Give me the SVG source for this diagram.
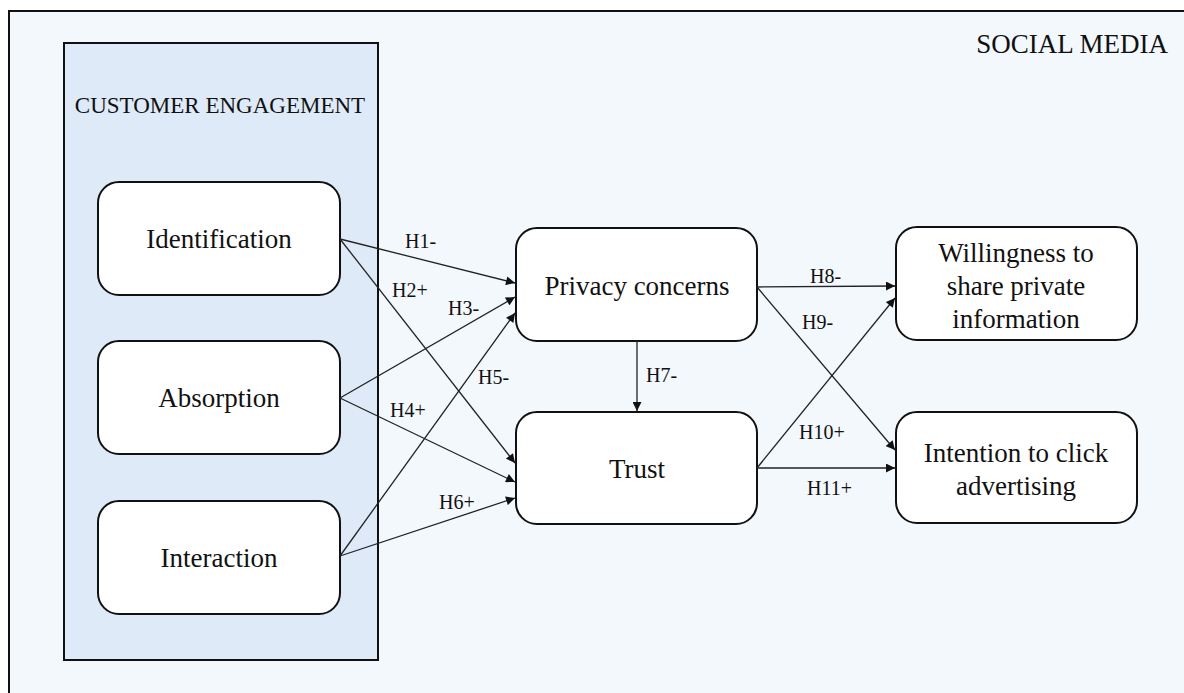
<svg xmlns="http://www.w3.org/2000/svg" width="1184" height="693" viewBox="0 0 1184 693">
  <style>
    .t { font-family: "Liberation Serif", "Times New Roman", serif; fill: #111; }
    .node { fill: #ffffff; stroke: #111; stroke-width: 2; }
    .lbl { font-size: 20px; }
    .nt { font-size: 27px; text-anchor: middle; }
    .edge { stroke: #222; stroke-width: 1.3; fill: none; marker-end: url(#arr); }
  </style>
  <defs>
    <marker id="arr" viewBox="0 0 10 10" refX="10" refY="5" markerWidth="10" markerHeight="9" markerUnits="userSpaceOnUse" orient="auto">
      <path d="M0,0 L10,5 L0,10 z" fill="#111"/>
    </marker>
  </defs>
  <rect x="0" y="0" width="1184" height="693" fill="#ffffff"/>
  <!-- social media frame -->
  <g id="social-media">
    <rect x="9" y="11" width="1190" height="700" fill="#f3f8fc" stroke="#111" stroke-width="2"/>
    <text class="t" x="1168" y="53" font-size="27" text-anchor="end">SOCIAL MEDIA</text>
  </g>
  <!-- customer engagement container -->
  <g id="customer-engagement">
    <rect x="64" y="43" width="314" height="617" fill="#deeaf8" stroke="#111" stroke-width="2"/>
    <text class="t" x="220" y="113" font-size="23" text-anchor="middle">CUSTOMER ENGAGEMENT</text>
  </g>
  <g id="identification">
    <rect class="node" x="98" y="182" width="242" height="113" rx="21"/>
    <text class="t nt" x="219" y="248">Identification</text>
  </g>
  <g id="absorption">
    <rect class="node" x="98" y="341" width="242" height="113" rx="21"/>
    <text class="t nt" x="219" y="407">Absorption</text>
  </g>
  <g id="interaction">
    <rect class="node" x="98" y="501" width="242" height="113" rx="21"/>
    <text class="t nt" x="219" y="567">Interaction</text>
  </g>
  <g id="privacy-concerns">
    <rect class="node" x="516" y="228" width="241" height="113" rx="21"/>
    <text class="t nt" x="637" y="295">Privacy concerns</text>
  </g>
  <g id="trust">
    <rect class="node" x="516" y="412" width="241" height="112" rx="21"/>
    <text class="t nt" x="637" y="478">Trust</text>
  </g>
  <g id="willingness">
    <rect class="node" x="896" y="227" width="241" height="113" rx="21"/>
    <text class="t nt" x="1016" y="262">Willingness to</text>
    <text class="t nt" x="1016" y="295">share private</text>
    <text class="t nt" x="1016" y="328">information</text>
  </g>
  <g id="intention">
    <rect class="node" x="896" y="412" width="241" height="111" rx="21"/>
    <text class="t nt" x="1016" y="462">Intention to click</text>
    <text class="t nt" x="1016" y="495">advertising</text>
  </g>
  <!-- hypothesis paths -->
  <g id="connectors">
    <line class="edge" x1="340" y1="239" x2="515" y2="283"/>
    <line class="edge" x1="340" y1="239" x2="515" y2="463"/>
    <line class="edge" x1="340" y1="398" x2="515" y2="297"/>
    <line class="edge" x1="340" y1="398" x2="515" y2="482"/>
    <line class="edge" x1="340" y1="556" x2="515" y2="313"/>
    <line class="edge" x1="340" y1="556" x2="515" y2="498"/>
    <line class="edge" x1="637" y1="341" x2="637" y2="411"/>
    <line class="edge" x1="757" y1="287" x2="895" y2="286"/>
    <line class="edge" x1="757" y1="287" x2="895" y2="450"/>
    <line class="edge" x1="757" y1="468" x2="895" y2="298"/>
    <line class="edge" x1="757" y1="468" x2="895" y2="468"/>
    <text class="t lbl" x="405" y="248">H1-</text>
    <text class="t lbl" x="392" y="297">H2+</text>
    <text class="t lbl" x="448" y="315">H3-</text>
    <text class="t lbl" x="390" y="417">H4+</text>
    <text class="t lbl" x="478" y="384">H5-</text>
    <text class="t lbl" x="439" y="509">H6+</text>
    <text class="t lbl" x="646" y="382">H7-</text>
    <text class="t lbl" x="810" y="283">H8-</text>
    <text class="t lbl" x="802" y="329">H9-</text>
    <text class="t lbl" x="799" y="439">H10+</text>
    <text class="t lbl" x="807" y="495">H11+</text>
  </g>
</svg>
